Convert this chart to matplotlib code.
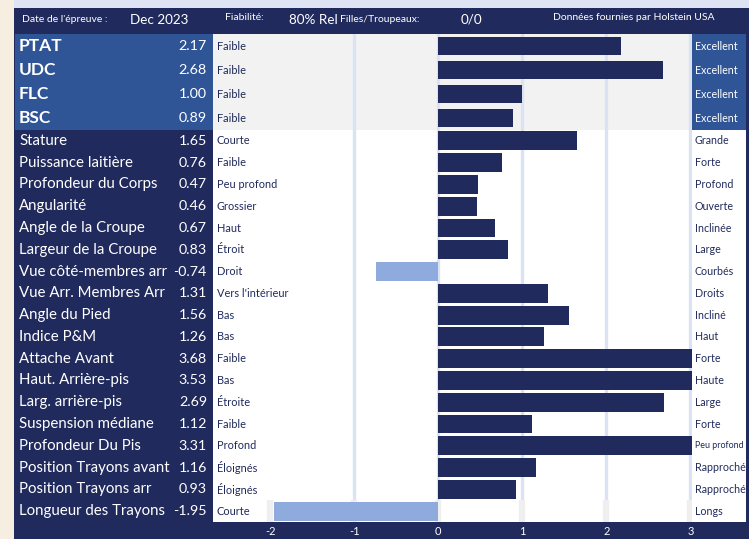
import matplotlib
matplotlib.use("Agg")
import matplotlib.pyplot as plt
from matplotlib.patches import Rectangle
from matplotlib.transforms import blended_transform_factory

plt.rcParams['font.family'] = ['Lato', 'DejaVu Sans']

# ---------------- data ----------------
main_traits = ["PTAT", "UDC", "FLC", "BSC"]
main_values = [2.17, 2.68, 1.00, 0.89]
main_low = ["Faible", "Faible", "Faible", "Faible"]
main_high = ["Excellent", "Excellent", "Excellent", "Excellent"]

lin_traits = ["Stature", "Puissance laitière", "Profondeur du Corps", "Angularité",
              "Angle de la Croupe", "Largeur de la Croupe", "Vue côté-membres arr",
              "Vue Arr. Membres Arr", "Angle du Pied", "Indice P&M", "Attache Avant",
              "Haut. Arrière-pis", "Larg. arrière-pis", "Suspension médiane",
              "Profondeur Du Pis", "Position Trayons avant", "Position Trayons arr",
              "Longueur des Trayons"]
lin_values = [1.65, 0.76, 0.47, 0.46, 0.67, 0.83, -0.74, 1.31, 1.56, 1.26, 3.68,
              3.53, 2.69, 1.12, 3.31, 1.16, 0.93, -1.95]
lin_low = ["Courte", "Faible", "Peu profond", "Grossier", "Haut", "Étroit", "Droit",
           "Vers l'intérieur", "Bas", "Bas", "Faible", "Bas", "Étroite", "Faible",
           "Profond", "Éloignés", "Éloignés", "Courte"]
lin_high = ["Grande", "Forte", "Profond", "Ouverte", "Inclinée", "Large", "Courbés",
            "Droits", "Incliné", "Haut", "Forte", "Haute", "Large", "Forte",
            "Peu profond", "Rapprochés", "Rapprochés", "Longs"]

tick_values = [-2, -1, 0, 1, 2, 3]
tick_labels = ["-2", "-1", "0", "1", "2", "3"]
grid_values = [-1, 0, 1, 2, 3]

header_items = [("Date de l'épreuve :", 7.5), ("Dec 2023", 9.7), ("Fiabilité:", 7.5),
                ("80% Rel", 9.7), ("Filles/Troupeaux:", 7.5), ("0/0", 9.7),
                ("Données fournies par Holstein USA", 7.5)]
header_x = [22, 130, 225, 289, 340, 461, 553]
header_y = [20, 20, 18, 20, 20, 20, 18]

# ---------------- style ----------------
W, H = 749, 539
NAVY = "#202a5c"
MBLUE = "#2f5597"
NEG = "#8faadc"
GRID = "#dae3f3"
GRAYBG = "#f2f2f2"
CREAM = "#f6eee0"
LAV = "#dfe4f4"
XLIM = (-2.68, 3.02)

fig = plt.figure(figsize=(W / 100, H / 100), dpi=100, facecolor=NAVY)
fig.patches.append(Rectangle((0, 0), 14 / W, 1, transform=fig.transFigure,
                             facecolor=CREAM, edgecolor="none", zorder=0))
fig.patches.append(Rectangle((14 / W, 1 - 8 / H), 1, 8 / H, transform=fig.transFigure,
                             facecolor=LAV, edgecolor="none", zorder=0))


def rect(x0, y0, x1, y1):
    return [x0 / W, 1 - y1 / H, (x1 - x0) / W, (y1 - y0) / H]


# header
for (txt, fs), hx, hy in zip(header_items, header_x, header_y):
    fig.text(hx / W, 1 - hy / H, txt, color="white", fontsize=fs, va="center", ha="left")


def section(y0, y1, traits, values, low, high, top, last):
    n = len(traits)
    left = fig.add_axes(rect(15, y0, 213, y1))
    mid = fig.add_axes(rect(213, y0, 692, y1))
    right = fig.add_axes(rect(692, y0, 746, y1))
    for a in (left, right):
        a.set_xlim(0, 1)
    for a in (left, mid, right):
        a.set_ylim(n - 0.5, -0.5)
        for s in a.spines.values():
            s.set_visible(False)
        a.set_yticks([])
    left.set_xticks([])
    right.set_xticks([])
    left.set_facecolor(MBLUE if top else NAVY)
    mid.set_facecolor(GRAYBG if top else "white")
    right.set_facecolor(MBLUE if top else "white")

    mid.set_xlim(*XLIM)
    for g in grid_values:
        mid.axvline(g, color=GRID, lw=2.4, zorder=0.5)
    if last:
        for g in tick_values:
            mid.plot([g, g], [n - 1.5, n - 0.5], color="#efefef", lw=4.5, zorder=0.6,
                     solid_capstyle="butt")
    ys = list(range(n))
    colors = [NAVY if v >= 0 else NEG for v in values]
    mid.barh(ys, values, height=0.79 if top else 0.87, color=colors, zorder=2)

    tl = blended_transform_factory(fig.transFigure, left.transData)
    tm = blended_transform_factory(fig.transFigure, mid.transData)
    for i in range(n):
        left.text(19 / W, i, traits[i], transform=tl, color="white",
                  fontsize=12.5 if top else 10.8, fontweight="bold" if top else "normal",
                  va="center", ha="left")
        left.text(207 / W, i, f"{values[i]:.2f}", transform=tl, color="white",
                  fontsize=10.3, va="center", ha="right")
        mid.text(217 / W, i, low[i], transform=tm, color=NAVY,
                 fontsize=7.9, va="center", ha="left", zorder=3)
        hl = high[i]
        right.text(0.055, i, hl, color="white" if top else NAVY,
                   fontsize=6.4 if hl == "Peu profond" else 7.7,
                   va="center", ha="left", clip_on=True)
    if last:
        mid.set_xticks(tick_values)
        mid.set_xticklabels(tick_labels, color="white", fontsize=8)
        mid.tick_params(axis="x", length=0, pad=3)
    else:
        mid.set_xticks([])


section(34, 130, main_traits, main_values, main_low, main_high, True, False)
section(130, 522, lin_traits, lin_values, lin_low, lin_high, False, True)

fig.savefig("out.png", dpi=100, facecolor=fig.get_facecolor())
